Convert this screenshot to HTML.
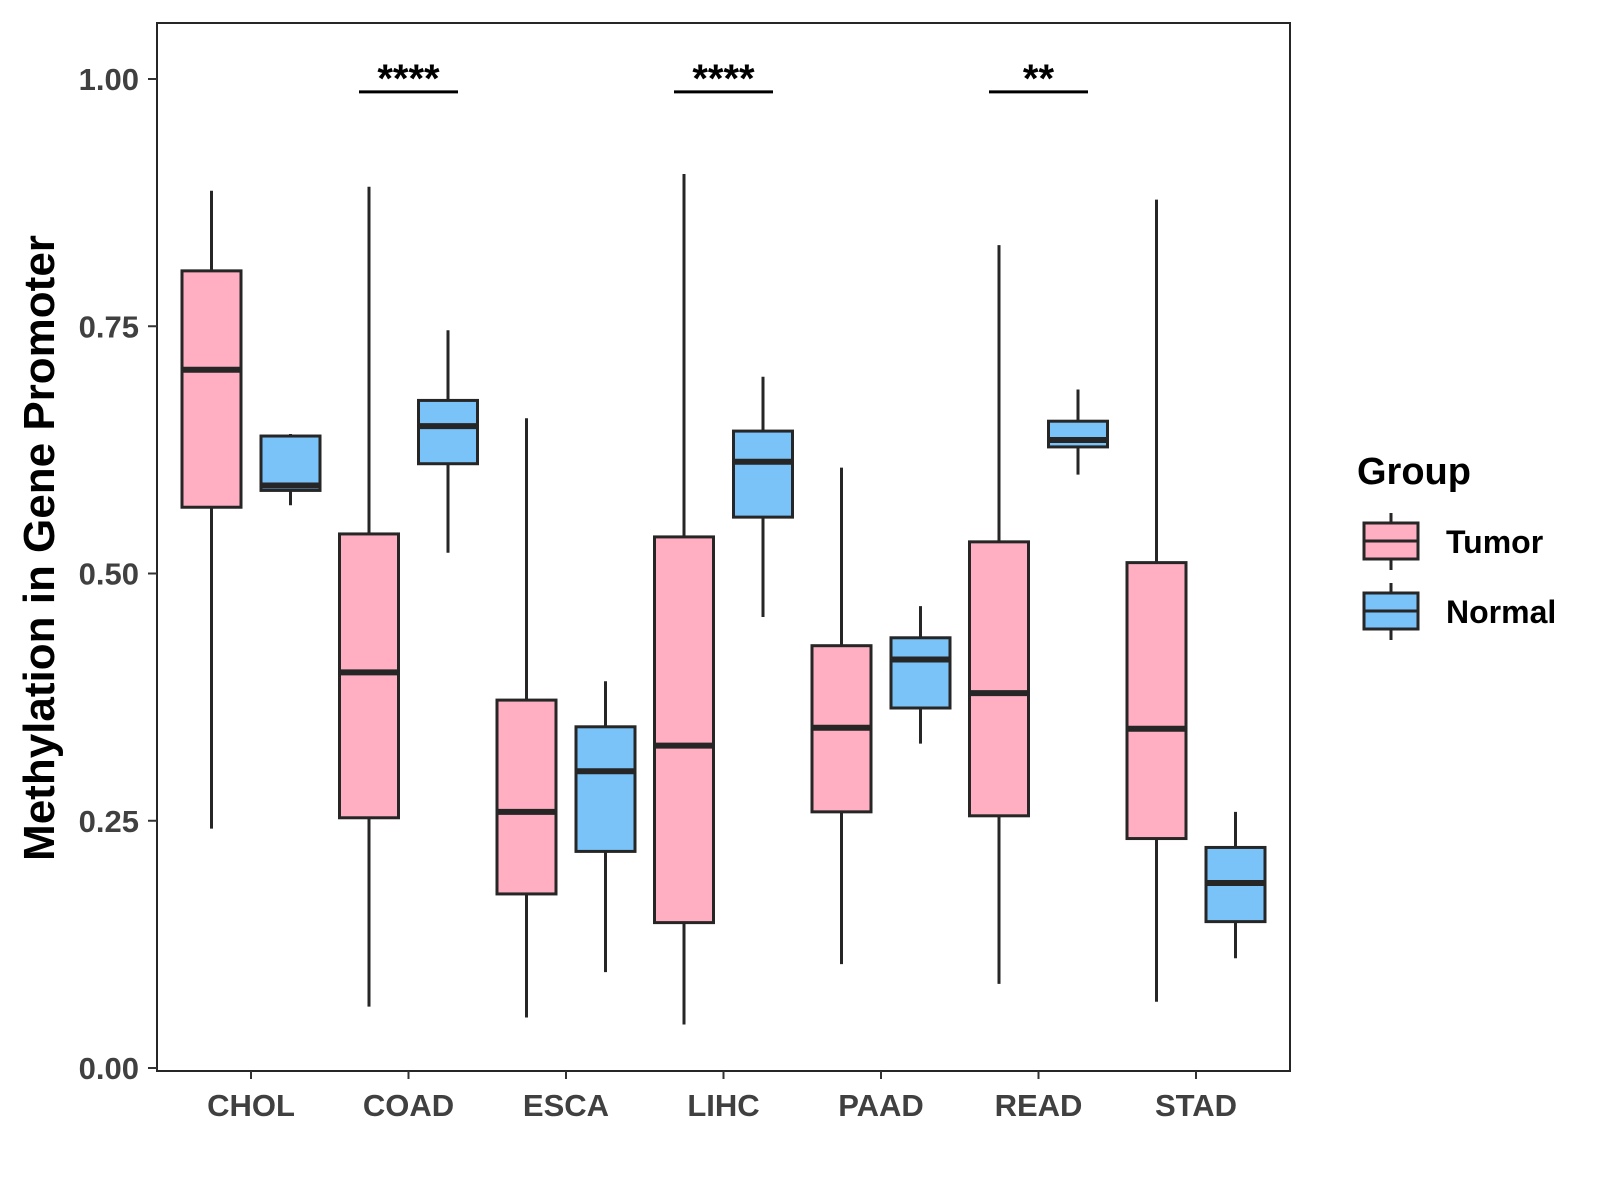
<!DOCTYPE html>
<html><head><meta charset="utf-8"><style>body{margin:0;background:#fff}svg{display:block}text{font-family:"Liberation Sans",Arial,sans-serif;font-weight:bold}</style></head>
<body>
<svg id="chart" width="1600" height="1200" xmlns="http://www.w3.org/2000/svg">
<rect x="157" y="23" width="1133" height="1048" fill="#fff" stroke="#262626" stroke-width="2"/>
<g id="marks"></g>
<text x="54" y="548" transform="rotate(-90 54 548)" text-anchor="middle" font-size="44" fill="#000">Methylation in Gene Promoter</text>
<g>
<text x="1357" y="484" font-size="38" fill="#000">Group</text>
</g>
</svg>
<script>
const categories = ["CHOL","COAD","ESCA","LIHC","PAAD","READ","STAD"];
// [lower whisker, q1, median, q3, upper whisker]
const tumorStats = [[0.242,0.567,0.706,0.806,0.887],[0.062,0.253,0.400,0.540,0.891],[0.051,0.176,0.259,0.372,0.657],[0.044,0.147,0.326,0.537,0.904],[0.105,0.259,0.344,0.427,0.607],[0.085,0.255,0.379,0.532,0.832],[0.067,0.232,0.343,0.511,0.878]];
const normalStats = [[0.569,0.584,0.589,0.639,0.641],[0.521,0.611,0.649,0.675,0.746],[0.097,0.219,0.300,0.345,0.391],[0.456,0.557,0.613,0.644,0.699],[0.328,0.364,0.413,0.435,0.467],[0.600,0.628,0.635,0.654,0.686],[0.111,0.148,0.187,0.223,0.259]];
const yTicks = [0,0.25,0.5,0.75,1.0];
const yTickLabels = ["0.00","0.25","0.50","0.75","1.00"];
const sigCategories = ["COAD","LIHC","READ"];
const sigLabels = ["****","****","**"];
const sigLevel = 0.987;

const NS="http://www.w3.org/2000/svg";
const svg=document.getElementById('chart');
const g=document.getElementById('marks');
function y(v){return 1068 - v*989;}
function x(i){return 251 + i*157.5;}
function mk(tag,attrs,parent){const e=document.createElementNS(NS,tag);for(const k in attrs)e.setAttribute(k,attrs[k]);(parent||g).appendChild(e);return e;}
const LC="#262626";
function box(cx,s,fill,name,w){
  w=w||59;
  const grp=mk('g',{});
  
  
  mk('line',{x1:cx,x2:cx,y1:y(s[4]),y2:y(s[0]),stroke:LC,'stroke-width':3},grp);
  mk('rect',{x:cx-w/2,y:y(s[3]),width:w,height:y(s[1])-y(s[3]),fill:fill,stroke:LC,'stroke-width':3},grp);
  mk('line',{x1:cx-w/2,x2:cx+w/2,y1:y(s[2]),y2:y(s[2]),stroke:LC,'stroke-width':6},grp);
}
categories.forEach((c,i)=>{
  box(x(i)-39.5,tumorStats[i],"#FFAFC1","box-tumor-"+c.toLowerCase());
  box(x(i)+39.5,normalStats[i],"#79C3F9","box-normal-"+c.toLowerCase());
  const t=mk('line',{x1:x(i),x2:x(i),y1:1071,y2:1079,stroke:"#333",'stroke-width':2});
  
  
  const tx=mk('text',{x:x(i),y:1116,'text-anchor':'middle','font-size':31,fill:'#404040'});
  tx.textContent=c;
  
  
});
yTicks.forEach((v,i)=>{
  const t=mk('line',{x1:148,x2:157,y1:y(v),y2:y(v),stroke:"#333",'stroke-width':2});
  
  
  const tx=mk('text',{x:139,y:y(v)+11,'text-anchor':'end','font-size':31,fill:'#404040'});
  tx.textContent=yTickLabels[i];
  
  
});
sigCategories.forEach((c,k)=>{
  const i=categories.indexOf(c);
  const l=mk('line',{x1:x(i)-49.5,x2:x(i)+49.5,y1:y(sigLevel),y2:y(sigLevel),stroke:'#000','stroke-width':3});
  
  
  const tx=mk('text',{x:x(i),y:y(sigLevel),'text-anchor':'middle','font-size':40,fill:'#000'});
  tx.textContent=sigLabels[k];
  
  
});
// legend
function key(yTop,fill,label,name){
  const grp=mk('g',{},svg);
  
  
  mk('line',{x1:1391,x2:1391,y1:yTop-10,y2:yTop+47,stroke:LC,'stroke-width':3},grp);
  mk('rect',{x:1364,y:yTop,width:54,height:36,fill:fill,stroke:LC,'stroke-width':3},grp);
  mk('line',{x1:1364,x2:1418,y1:yTop+18,y2:yTop+18,stroke:LC,'stroke-width':3},grp);
  const t=mk('text',{x:1446,y:yTop+30,'font-size':32,fill:'#000'},grp);
  t.textContent=label;
}
key(523,"#FFAFC1","Tumor","legend-entry-tumor");
key(593,"#79C3F9","Normal","legend-entry-normal");
</script>
</body></html>
